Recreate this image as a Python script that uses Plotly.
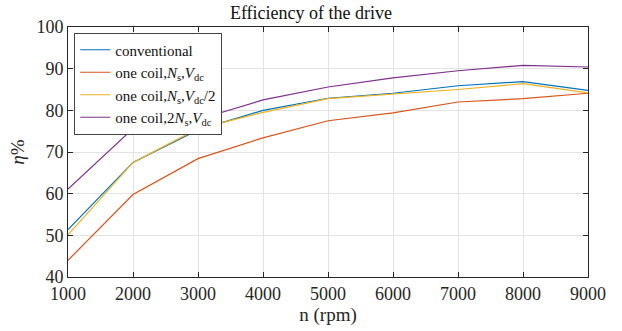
import plotly.graph_objects as go

speed_rpm = [1000, 2000, 3000, 4000, 5000, 6000, 7000, 8000, 9000]
eff_conventional = [51.4, 67.5, 75.3, 80.0, 82.9, 84.1, 85.9, 86.9, 84.8]
eff_one_coil_ns_vdc = [44.0, 59.8, 68.4, 73.4, 77.5, 79.4, 82.0, 82.8, 84.1]
eff_one_coil_ns_vdc_half = [50.1, 67.5, 75.6, 79.5, 82.8, 83.9, 85.0, 86.4, 84.2]
eff_one_coil_2ns_vdc = [61.1, 75.6, 77.8, 82.5, 85.6, 87.8, 89.5, 90.8, 90.4]

series_names = [
    "conventional",
    "one coil,<i>N</i><sub>s</sub>,<i>V</i><sub>dc</sub>",
    "one coil,<i>N</i><sub>s</sub>,<i>V</i><sub>dc</sub>/2",
    "one coil,2<i>N</i><sub>s</sub>,<i>V</i><sub>dc</sub>",
]
series_values = [eff_conventional, eff_one_coil_ns_vdc, eff_one_coil_ns_vdc_half, eff_one_coil_2ns_vdc]
colors = ["#0072BD", "#D95319", "#EDB120", "#7E2F8E"]

x_ticks = [1000, 2000, 3000, 4000, 5000, 6000, 7000, 8000, 9000]
y_ticks = [40, 50, 60, 70, 80, 90, 100]

FONT = "Liberation Serif, Times New Roman, DejaVu Serif, serif"

fig = go.Figure()
for name, vals, c in zip(series_names, series_values, colors):
    fig.add_trace(go.Scatter(x=speed_rpm, y=vals, mode="lines", name=name,
                             line=dict(color=c, width=1.2)))

axis_common = dict(
    showline=True, linecolor="#262626", linewidth=1, mirror="ticks",
    ticks="inside", ticklen=5, tickcolor="#262626",
    showgrid=True, gridcolor="#e3e3e3", gridwidth=1, zeroline=False,
    tickfont=dict(family=FONT, size=18, color="#262626"),
)

fig.update_layout(
    width=622, height=331,
    margin=dict(l=68, r=34, t=27, b=54),
    paper_bgcolor="white", plot_bgcolor="white",
    font=dict(family=FONT, color="#262626"),
    title=dict(text="Efficiency of the drive", x=0.5, xanchor="center",
               y=0.962, yanchor="middle", font=dict(family=FONT, size=18, color="#111")),
    xaxis=dict(range=[1000, 9000], tickvals=x_ticks,
               title=dict(text="n (rpm)", font=dict(family=FONT, size=19, color="#262626"), standoff=2),
               **axis_common),
    yaxis=dict(range=[40, 100], tickvals=y_ticks, ticklabelstandoff=0,
               title=dict(text="<i>η</i>%", font=dict(family=FONT, size=19, color="#262626"), standoff=6),
               **axis_common),
    legend=dict(x=0.012, y=0.978, xanchor="left", yanchor="top",
                bgcolor="white", bordercolor="#444", borderwidth=1,
                font=dict(family=FONT, size=15, color="#111"),
                itemwidth=30, tracegroupgap=0),
    showlegend=True,
)

fig.write_html("out.html", config={"displayModeBar": False},
               post_script="document.body.style.margin='0';")
